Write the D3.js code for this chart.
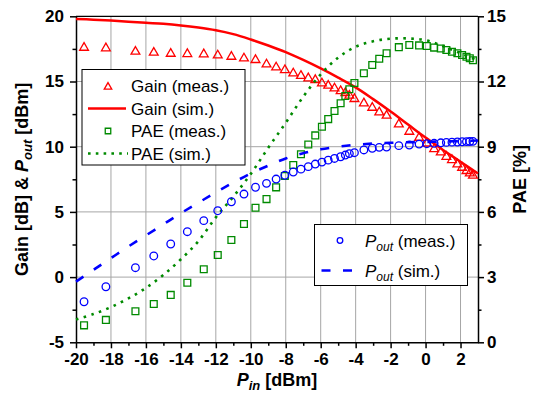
<!DOCTYPE html>
<html>
<head>
<meta charset="utf-8">
<script src="https://cdn.jsdelivr.net/npm/d3@7"></script>
<style>
  html, body { margin: 0; padding: 0; background: #fff; }
  svg { display: block; font-family: "Liberation Sans", Arial, sans-serif; }
</style>
</head>
<body>
<svg id="chart" width="536" height="396"></svg>
<script>
// Measured input power sweep [dBm]
const pinMeas = [-19.54, -18.29, -16.60, -15.55, -14.58, -13.63, -12.69, -11.89, -11.11, -10.39,
  -9.73, -9.10, -8.55, -8.05, -7.57, -7.13, -6.71, -6.31, -5.93, -5.57,
  -5.21, -4.86, -4.59, -4.36, -4.07, -3.53, -3.05, -2.65, -2.23, -1.53,
  -0.93, -0.37, 0.07, 0.49, 0.87, 1.19, 1.51, 1.82, 2.09, 2.34, 2.53, 2.71];
// Measured gain [dB]
const gainMeas = [17.59, 17.55, 17.29, 17.21, 17.13, 17.11, 17.09, 17.01, 16.90, 16.78,
  16.65, 16.32, 16.09, 15.88, 15.63, 15.44, 15.25, 15.12, 14.86, 14.68,
  14.48, 14.27, 14.12, 13.92, 13.66, 13.33, 12.99, 12.64, 12.38, 11.72,
  11.15, 10.69, 10.25, 9.82, 9.57, 9.23, 8.98, 8.65, 8.39, 8.14, 7.96, 7.78];
// Measured output power [dBm]
const poutMeas = [-1.89, -0.74, 0.72, 1.62, 2.54, 3.48, 4.33, 5.09, 5.78, 6.37,
  6.89, 7.19, 7.52, 7.81, 8.06, 8.28, 8.47, 8.67, 8.82, 8.97,
  9.10, 9.23, 9.36, 9.47, 9.54, 9.75, 9.88, 9.95, 9.97, 10.08,
  10.13, 10.20, 10.23, 10.26, 10.30, 10.33, 10.35, 10.36, 10.38, 10.39, 10.40, 10.41];
// Measured power-added efficiency [%]
const paeMeas = [0.78, 1.03, 1.43, 1.76, 2.18, 2.74, 3.36, 4.02, 4.71, 5.44,
  6.19, 6.59, 7.13, 7.65, 8.16, 8.65, 9.10, 9.52, 9.92, 10.27,
  10.64, 11.00, 11.33, 11.64, 11.93, 12.38, 12.76, 13.05, 13.30, 13.58,
  13.68, 13.66, 13.63, 13.56, 13.52, 13.45, 13.37, 13.30, 13.22, 13.14, 13.07, 12.98];

// Simulated sweep [dBm]
const pinSim = [-20, -19, -18, -17, -16, -15, -14, -13, -12, -11, -10, -9,
  -8, -7, -6, -5, -4, -3, -2, -1, 0, 1, 2, 3];
const gainSim = [19.80, 19.74, 19.67, 19.59, 19.50, 19.42, 19.30, 19.14, 18.93, 18.63, 18.22, 17.76,
  17.25, 16.65, 16.00, 15.30, 14.55, 13.65, 12.70, 11.70, 10.70, 9.75, 8.85, 7.95];
const poutSim = [-0.35, 0.55, 1.45, 2.35, 3.20, 4.05, 4.90, 5.70, 6.50, 7.25, 7.95, 8.55,
  9.10, 9.50, 9.80, 10.00, 10.15, 10.24, 10.30, 10.34, 10.37, 10.40, 10.43, 10.47];
const paeSim = [1.05, 1.30, 1.62, 2.02, 2.50, 3.10, 3.82, 4.65, 5.75, 6.70, 7.75, 8.95,
  10.10, 11.30, 12.33, 13.10, 13.60, 13.85, 13.97, 13.98, 13.90, 13.63, 13.30, 12.97];

// Axis ticks
const xTicks = [-20, -18, -16, -14, -12, -10, -8, -6, -4, -2, 0, 2];
const xMinor = [-19, -17, -15, -13, -11, -9, -7, -5, -3, -1, 1];
const yLeftTicks = [-5, 0, 5, 10, 15, 20];
const yLeftMinor = [-2.5, 2.5, 7.5, 12.5, 17.5];
const yRightTicks = [0, 3, 6, 9, 12, 15];
const yRightMinor = [1.5, 4.5, 7.5, 10.5, 13.5];

const RED = "#ff0000", GREEN = "#008a00", BLUE = "#0000ff";

const svg = d3.select("#chart");
const L = 76, R = 478, T = 16.3, B = 342.3;

const x = d3.scaleLinear().domain([-20, 3]).range([L, R]);
const yL = d3.scaleLinear().domain([-5, 20]).range([B, T]);
const yR = d3.scaleLinear().domain([0, 15]).range([B, T]);

// grid
const grid = svg.append("g").attr("stroke", "#a6a6a6").attr("stroke-width", 1);
grid.selectAll("line.v").data(xTicks.filter(d => d > -20)).join("line")
  .attr("x1", d => x(d)).attr("x2", d => x(d)).attr("y1", T).attr("y2", B);
grid.selectAll("line.h").data(yLeftTicks.filter(d => d > -5 && d < 20)).join("line")
  .attr("x1", L).attr("x2", R).attr("y1", d => yL(d)).attr("y2", d => yL(d));

// axes
function styleAxis(g) {
  g.select(".domain").attr("stroke", "#000").attr("stroke-width", 1.5);
  g.selectAll(".tick line").attr("stroke", "#000").attr("stroke-width", 1.5);
  g.selectAll("text").attr("font-size", 17).attr("font-weight", "bold")
    .attr("font-family", "'Liberation Sans', Arial, sans-serif").attr("fill", "#000");
}
const fmt = d => d < 0 ? "-" + Math.abs(d) : String(d);

const gx = svg.append("g").attr("transform", `translate(0,${B})`)
  .call(d3.axisBottom(x).tickValues(xTicks).tickSize(6).tickSizeOuter(0).tickPadding(5).tickFormat(fmt));
styleAxis(gx);
svg.append("g").attr("transform", `translate(0,${B})`)
  .call(d3.axisBottom(x).tickValues(xMinor).tickSize(3.5).tickSizeOuter(0).tickFormat(""))
  .call(g => { g.select(".domain").remove(); g.selectAll("line").attr("stroke", "#000").attr("stroke-width", 1.5); });

const gyl = svg.append("g").attr("transform", `translate(${L},0)`)
  .call(d3.axisLeft(yL).tickValues(yLeftTicks).tickSize(6).tickSizeOuter(0).tickPadding(6).tickFormat(fmt));
styleAxis(gyl);
svg.append("g").attr("transform", `translate(${L},0)`)
  .call(d3.axisLeft(yL).tickValues(yLeftMinor).tickSize(3.5).tickFormat(""))
  .call(g => { g.select(".domain").remove(); g.selectAll("line").attr("stroke", "#000").attr("stroke-width", 1.5); });

const gyr = svg.append("g").attr("transform", `translate(${R},0)`)
  .call(d3.axisRight(yR).tickValues(yRightTicks).tickSize(6).tickSizeOuter(0).tickPadding(3));
styleAxis(gyr);
svg.append("g").attr("transform", `translate(${R},0)`)
  .call(d3.axisRight(yR).tickValues(yRightMinor).tickSize(3.5).tickFormat(""))
  .call(g => { g.select(".domain").remove(); g.selectAll("line").attr("stroke", "#000").attr("stroke-width", 1.5); });

// top frame line
svg.append("line").attr("x1", L).attr("x2", R).attr("y1", T).attr("y2", T)
  .attr("stroke", "#000").attr("stroke-width", 1.2);

// symbol paths
const tri = s => { const h = s * 0.866; return `M0,${-2 * h / 3}L${s / 2},${h / 3}L${-s / 2},${h / 3}Z`; };
const sq = s => `M${-s / 2},${-s / 2}h${s}v${s}h${-s}Z`;

const plot = svg.append("g");
const lineGen = (ys) => d3.line().x((d, i) => x(pinSim[i])).y((d, i) => ys(d)).curve(d3.curveCatmullRom.alpha(0.5));

// Gain (meas.)
plot.append("g").selectAll("path").data(gainMeas).join("path")
  .attr("d", tri(8.8)).attr("transform", (d, i) => `translate(${x(pinMeas[i])},${yL(d)})`)
  .attr("fill", "none").attr("stroke", RED).attr("stroke-width", 1.3);
// Gain (sim.)
plot.append("path").datum(gainSim).attr("d", lineGen(yL))
  .attr("fill", "none").attr("stroke", RED).attr("stroke-width", 2.5);
// PAE (meas.)
plot.append("g").selectAll("path").data(paeMeas).join("path")
  .attr("d", sq(6.8)).attr("transform", (d, i) => `translate(${x(pinMeas[i])},${yR(d)})`)
  .attr("fill", "none").attr("stroke", GREEN).attr("stroke-width", 1.3);
// PAE (sim.)
plot.append("path").datum(paeSim).attr("d", lineGen(yR))
  .attr("fill", "none").attr("stroke", GREEN).attr("stroke-width", 2.6).attr("stroke-dasharray", "2.6,5.4");
// Pout (meas.)
plot.append("g").selectAll("circle").data(poutMeas).join("circle")
  .attr("cx", (d, i) => x(pinMeas[i])).attr("cy", d => yL(d)).attr("r", 3.8)
  .attr("fill", "none").attr("stroke", BLUE).attr("stroke-width", 1.3);
// Pout (sim.)
plot.append("path").datum(poutSim).attr("d", lineGen(yL))
  .attr("fill", "none").attr("stroke", BLUE).attr("stroke-width", 2.6).attr("stroke-dasharray", "9,12.5");

// axis titles
const xt = svg.append("text").attr("x", (L + R) / 2).attr("y", 386).attr("text-anchor", "middle")
  .attr("font-size", 18).attr("font-weight", "bold");
xt.append("tspan").attr("font-style", "italic").text("P");
xt.append("tspan").attr("font-style", "italic").attr("font-size", 13).attr("dy", 4).text("in");
xt.append("tspan").attr("dy", -4).text(" [dBm]");

const ylt = svg.append("text").attr("transform", `translate(28,${(T + B) / 2}) rotate(-90)`)
  .attr("text-anchor", "middle").attr("font-size", 18).attr("font-weight", "bold");
ylt.append("tspan").text("Gain [dB] & ");
ylt.append("tspan").attr("font-style", "italic").text("P");
ylt.append("tspan").attr("font-style", "italic").attr("font-size", 13).attr("dy", 4).text("out");
ylt.append("tspan").attr("dy", -4).text(" [dBm]");

svg.append("text").attr("transform", `translate(526,${(T + B) / 2}) rotate(-90)`)
  .attr("text-anchor", "middle").attr("font-size", 18).attr("font-weight", "bold").text("PAE [%]");

// legend: gain & PAE
const leg1 = svg.append("g");
leg1.append("rect").attr("x", 82).attr("y", 69.5).attr("width", 163).attr("height", 95.5)
  .attr("fill", "#fff").attr("stroke", "#000").attr("stroke-width", 1);
const rows1 = [86, 108.5, 131, 153.5];
const labels1 = ["Gain (meas.)", "Gain (sim.)", "PAE (meas.)", "PAE (sim.)"];
leg1.append("path").attr("d", tri(7.5)).attr("transform", `translate(108,${rows1[0] + 1})`)
  .attr("fill", "none").attr("stroke", RED).attr("stroke-width", 1.3);
leg1.append("line").attr("x1", 88).attr("x2", 126).attr("y1", rows1[1]).attr("y2", rows1[1])
  .attr("stroke", RED).attr("stroke-width", 2.5);
leg1.append("path").attr("d", sq(5.5)).attr("transform", `translate(108,${rows1[2]})`)
  .attr("fill", "none").attr("stroke", GREEN).attr("stroke-width", 1.3);
leg1.append("line").attr("x1", 88).attr("x2", 128).attr("y1", rows1[3]).attr("y2", rows1[3])
  .attr("stroke", GREEN).attr("stroke-width", 2.6).attr("stroke-dasharray", "2.6,5.2");
leg1.selectAll("text").data(labels1).join("text")
  .attr("x", 131).attr("y", (d, i) => rows1[i]).attr("dy", "0.36em")
  .attr("font-size", 17).text(d => d);

// legend: output power
const leg2 = svg.append("g");
leg2.append("rect").attr("x", 314.5).attr("y", 224.5).attr("width", 153).attr("height", 61)
  .attr("fill", "#fff").attr("stroke", "#000").attr("stroke-width", 1);
const rows2 = [240.5, 270.5];
leg2.append("circle").attr("cx", 340).attr("cy", rows2[0]).attr("r", 2.8)
  .attr("fill", "none").attr("stroke", BLUE).attr("stroke-width", 1.3);
leg2.append("line").attr("x1", 321.5).attr("x2", 353).attr("y1", rows2[1]).attr("y2", rows2[1])
  .attr("stroke", BLUE).attr("stroke-width", 2.6).attr("stroke-dasharray", "9,12.5");
const legTexts2 = ["(meas.)", "(sim.)"];
leg2.selectAll("text").data(legTexts2).join("text")
  .attr("x", 365).attr("y", (d, i) => rows2[i]).attr("dy", "0.36em").attr("font-size", 17)
  .each(function (d) {
    const t = d3.select(this);
    t.append("tspan").attr("font-style", "italic").text("P");
    t.append("tspan").attr("font-style", "italic").attr("font-size", 12).attr("dy", 4).text("out");
    t.append("tspan").attr("dy", -4).text(" " + d);
  });
</script>
</body>
</html>
